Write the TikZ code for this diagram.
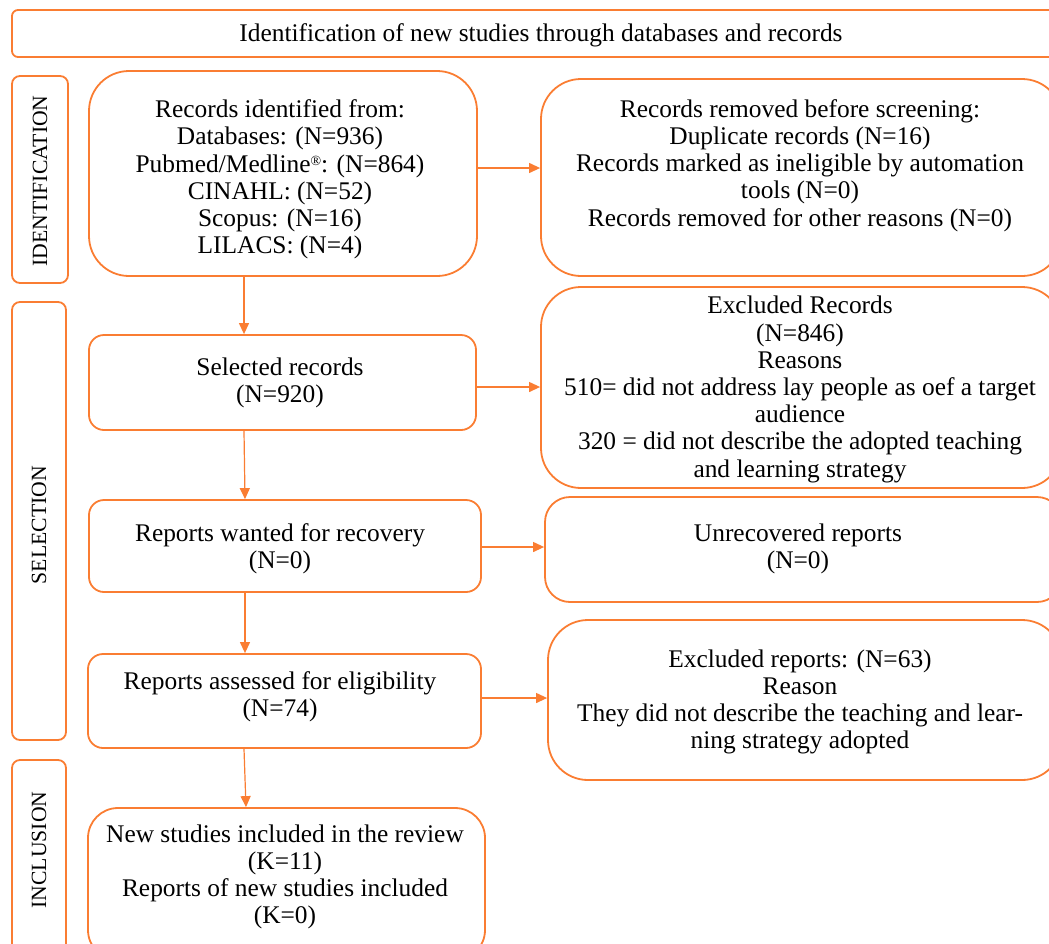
\documentclass[tikz,border=0pt]{standalone}
\usepackage{fontspec}
\setmainfont{Liberation Serif}
\usetikzlibrary{arrows.meta}
\definecolor{org}{RGB}{250,125,50}
\begin{document}
\begin{tikzpicture}[x=1pt,y=-1pt,
  box/.style={draw=org, line width=1.8pt, inner sep=0pt},
  txt/.style={align=center, font=\fontsize{25.4}{27.2}\selectfont, inner sep=0pt, text=black},
  side/.style={font=\fontsize{21.7}{24}\selectfont, rotate=90, inner sep=0pt, text=black},
  arr/.style={draw=org, line width=1.2pt, -{Triangle[length=11pt,width=10pt]}}]
\useasboundingbox (0,0) rectangle (1049,943);
\clip (0,0) rectangle (1049,943);
% frames
\node[box, rounded corners=6pt, minimum width=1048pt, minimum height=47pt] (title) at (536,33.5) {};
\node[box, rounded corners=8pt, minimum width=56pt, minimum height=207pt] (sid) at (40,179.5) {};
\node[box, rounded corners=8pt, minimum width=54pt, minimum height=438pt] (ssel) at (39,521) {};
\node[box, rounded corners=8pt, minimum width=54pt, minimum height=210pt] (sinc) at (39,865) {};
% left column
\node[box, rounded corners=40pt, minimum width=388pt, minimum height=205pt] (b1) at (283,173.5) {};
\node[box, rounded corners=15pt, minimum width=387pt, minimum height=95pt] (b2) at (282.5,382.5) {};
\node[box, rounded corners=15pt, minimum width=392pt, minimum height=92pt] (b3) at (285,546) {};
\node[box, rounded corners=15pt, minimum width=393pt, minimum height=94pt] (b4) at (284.5,701) {};
\node[box, rounded corners=30pt, minimum width=397pt, minimum height=152pt] (b5) at (286.5,884) {};
% right column
\node[box, rounded corners=40pt, minimum width=521pt, minimum height=197pt] (r1) at (801.5,177.5) {};
\node[box, rounded corners=40pt, minimum width=521pt, minimum height=201pt] (r2) at (801.5,387.5) {};
\node[box, rounded corners=25pt, minimum width=517pt, minimum height=105pt] (r3) at (803.5,549.5) {};
\node[box, rounded corners=40pt, minimum width=514pt, minimum height=160pt] (r4) at (805,700) {};
% texts
\node[txt] (ttitle) at (541,35) {Identification of new studies through databases and records};
\node[side] (lid) at (40,181) {IDENTIFICATION};
\node[side] (lsel) at (39,525) {SELECTION};
\node[side] (linc) at (39,850) {INCLUSION};
\node[txt] (tb1) at (280,179.5) {Records identified from:\\Databases: (N=936)\\Pubmed/Medline\raisebox{7pt}{\fontsize{14}{14}\selectfont ®}: (N=864)\\CINAHL: (N=52)\\Scopus: (N=16)\\LILACS: (N=4)};
\node[txt] (tr1) at (800,165.5) {Records removed before screening:\\Duplicate records (N=16)\\Records marked as ineligible by automation\\tools (N=0)\\Records removed for other reasons (N=0)};
\node[txt] (tb2) at (280,382.5) {Selected records\\(N=920)};
\node[txt] (tr2) at (800,389.5) {Excluded Records\\(N=846)\\Reasons\\510= did not address lay people as oef a target\\audience\\320 = did not describe the adopted teaching\\and learning strategy};
\node[txt] (tb3) at (280,549) {Reports wanted for recovery\\(N=0)};
\node[txt] (tr3) at (798,549) {Unrecovered reports\\(N=0)};
\node[txt] (tb4) at (280,697) {Reports assessed for eligibility\\(N=74)};
\node[txt] (tr4) at (800,702) {Excluded reports: (N=63)\\Reason\\They did not describe the teaching and lear-\\ning strategy adopted};
\node[txt] (tb5) at (285,877) {New studies included in the review\\(K=11)\\Reports of new studies included\\(K=0)};
% vertical arrows
\draw[arr] ([xshift=-39pt]b1.south) -- ([xshift=-38.5pt]b2.north);
\draw[arr] ([xshift=-38.5pt]b2.south) -- ([xshift=-40pt]b3.north);
\draw[arr] ([xshift=-40pt]b3.south) -- ([xshift=-39.5pt]b4.north);
\draw[arr] ([xshift=-40.5pt]b4.south) -- ([xshift=-40.5pt]b5.north);
% horizontal arrows
\coordinate (h1) at ([yshift=5.5pt]b1.east);
\coordinate (h2) at ([yshift=-4.5pt]b2.east);
\coordinate (h3) at ([yshift=-1pt]b3.east);
\coordinate (h4) at ([yshift=3pt]b4.east);
\draw[arr] (h1) -- (h1 -| r1.west);
\draw[arr] (h2) -- (h2 -| r2.west);
\draw[arr] (h3) -- (h3 -| r3.west);
\draw[arr] (h4) -- (h4 -| r4.west);
\end{tikzpicture}
\end{document}
